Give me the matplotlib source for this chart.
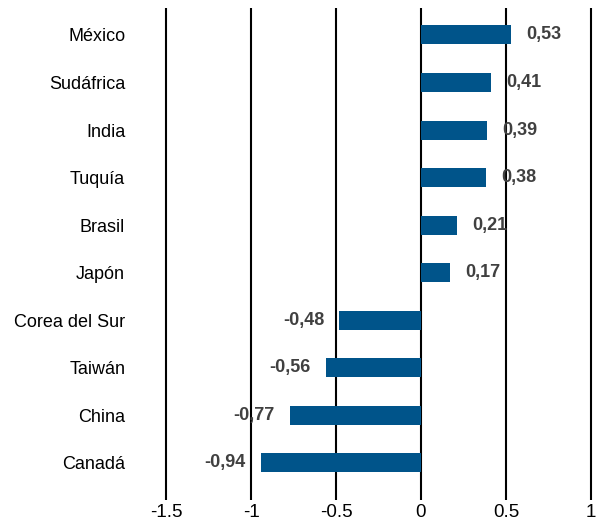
import matplotlib
matplotlib.use("Agg")
import matplotlib.pyplot as plt

countries = ["México", "Sudáfrica", "India", "Tuquía", "Brasil", "Japón",
             "Corea del Sur", "Taiwán", "China", "Canadá"]
values = [0.53, 0.41, 0.39, 0.38, 0.21, 0.17, -0.48, -0.56, -0.77, -0.94]
x_ticks = [-1.5, -1, -0.5, 0, 0.5, 1]
x_tick_labels = ["-1.5", "-1", "-0.5", "0", "0.5", "1"]

plt.rcParams["font.family"] = ["Liberation Sans", "DejaVu Sans"]

fig = plt.figure(figsize=(6.07, 5.24), dpi=100)
ax = fig.add_axes([0.268, 0.046, 0.711, 0.939])

y = list(range(len(countries)))
ax.barh(y, values, height=0.4, color="#00548a", zorder=3)

# value labels, bold, just outside bar end
for yi, v in zip(y, values):
    label = f"{v:.2f}".replace(".", ",")
    if v >= 0:
        ax.annotate(label, (v, yi), xytext=(11, 0), textcoords="offset points",
                    ha="left", va="center", fontsize=13, fontweight="bold", color="#404040")
    else:
        ax.annotate(label, (v, yi), xytext=(-11, 0), textcoords="offset points",
                    ha="right", va="center", fontsize=13, fontweight="bold", color="#404040")

ax.set_xlim(-1.52, 1.02)
ax.set_ylim(len(countries) - 1 + 0.78, -0.57)
ax.set_xticks(x_ticks)
ax.set_xticklabels(x_tick_labels, fontsize=13.5)
ax.set_yticks(y)
ax.set_yticklabels(countries, fontsize=13)
ax.tick_params(length=0)
ax.tick_params(axis="x", pad=3)
ax.tick_params(axis="y", pad=27)

ax.grid(axis="x", color="black", linewidth=1.5, zorder=0)
ax.set_axisbelow(True)
for s in ax.spines.values():
    s.set_visible(False)

fig.savefig("out.png", dpi=100)
